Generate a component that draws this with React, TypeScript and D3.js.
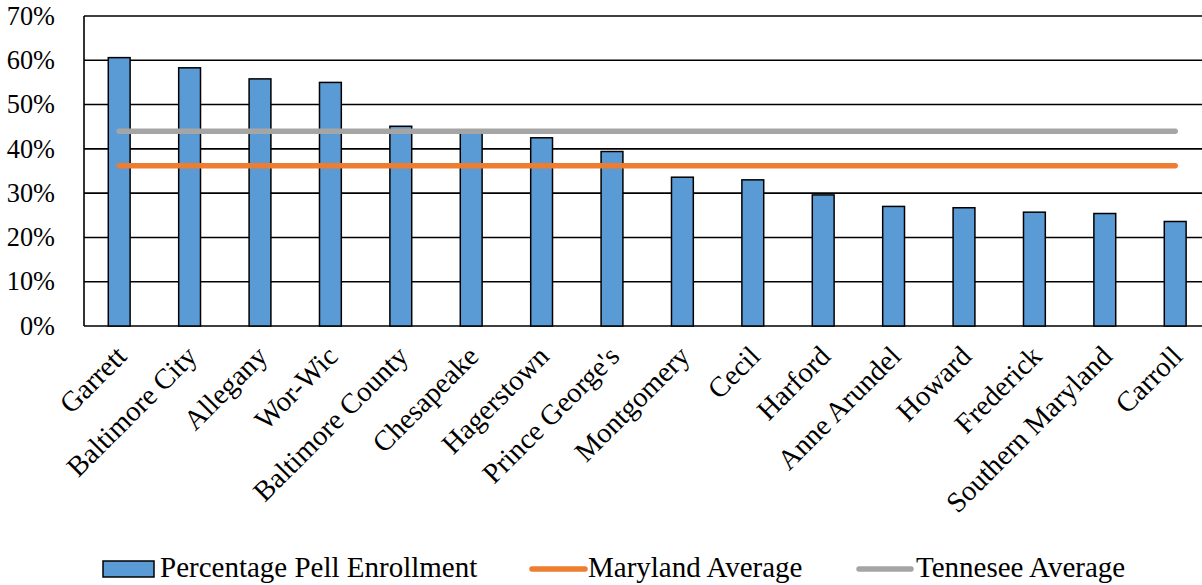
import React from "react";
import * as d3 from "d3";

const categories = [
  "Garrett", "Baltimore City", "Allegany", "Wor-Wic", "Baltimore County",
  "Chesapeake", "Hagerstown", "Prince George's", "Montgomery", "Cecil",
  "Harford", "Anne Arundel", "Howard", "Frederick", "Southern Maryland", "Carroll",
];
const pellValues = [
  0.606, 0.583, 0.558, 0.550, 0.451, 0.441, 0.425, 0.394, 0.336, 0.330,
  0.296, 0.270, 0.267, 0.257, 0.254, 0.236,
];
const marylandAverage = 0.362;
const tennesseeAverage = 0.44;
const yTicks = [0, 0.1, 0.2, 0.3, 0.4, 0.5, 0.6, 0.7];
const legendLabels = ["Percentage Pell Enrollment", "Maryland Average", "Tennesee Average"];

const W = 1202;
const H = 585;
const left = 84;
const right = 1210.4;
const top = 16;
const bottom = 326;

const BLUE = "#5B9BD5";
const ORANGE = "#ED7D31";
const GRAY = "#A5A5A5";
const FONT = "Liberation Serif, Times New Roman, serif";
const textStyle = { fontFamily: FONT };

export default function App() {
  const x = d3.scaleBand<string>().domain(categories).range([left, right]).paddingInner(0.69).paddingOuter(0.345);
  const y = d3.scaleLinear().domain([0, 0.7]).range([bottom, top]);
  const cx = (c: string) => (x(c) as number) + x.bandwidth() / 2;
  const first = cx(categories[0]);
  const last = cx(categories[categories.length - 1]);
  const line = d3.line<[number, number]>().x((d) => d[0]).y((d) => d[1]);

  return (
    <svg width={W} height={H} style={{ position: "absolute", left: 0, top: 0, background: "#fff" }}>
      <rect x={0} y={0} width={W} height={H} fill="#fff" />
      {yTicks.map((t) => (
        <g key={t}>
          <line x1={left} x2={right} y1={y(t)} y2={y(t)} stroke="#000" strokeWidth={1.6} />
          <text x={55} y={y(t)} dy="0.33em" textAnchor="end" fontSize={26.3} fill="#000" style={textStyle}>
            {d3.format(".0%")(t)}
          </text>
        </g>
      ))}
      <line x1={left} x2={left} y1={top} y2={bottom} stroke="#000" strokeWidth={1.6} />
      {categories.map((c, i) => (
        <rect
          key={c}
          x={x(c)}
          y={y(pellValues[i])}
          width={x.bandwidth()}
          height={bottom - y(pellValues[i])}
          fill={BLUE}
          stroke="#000"
          strokeWidth={1.5}
        />
      ))}
      <path d={line([[first, y(marylandAverage)], [last, y(marylandAverage)]]) as string} stroke={ORANGE} strokeWidth={5.5} strokeLinecap="round" fill="none" />
      <path d={line([[first, y(tennesseeAverage)], [last, y(tennesseeAverage)]]) as string} stroke={GRAY} strokeWidth={5.5} strokeLinecap="round" fill="none" />
      {categories.map((c) => (
        <text
          key={c}
          transform={`translate(${cx(c) + 9},${358}) rotate(-45)`}
          textAnchor="end"
          fontSize={28.5}
          fill="#000"
          style={textStyle}
        >
          {c}
        </text>
      ))}
      <g fontSize={29} fill="#000">
        <rect x={103} y={561} width={51} height={16} fill={BLUE} stroke="#000" strokeWidth={1.5} />
        <text x={160} y={577} style={textStyle}>{legendLabels[0]}</text>
        <line x1={532} x2={585} y1={569} y2={569} stroke={ORANGE} strokeWidth={5.5} strokeLinecap="round" />
        <text x={588} y={577} style={textStyle}>{legendLabels[1]}</text>
        <line x1={859} x2={911} y1={569} y2={569} stroke={GRAY} strokeWidth={5.5} strokeLinecap="round" />
        <text x={916} y={577} style={textStyle}>{legendLabels[2]}</text>
      </g>
    </svg>
  );
}
